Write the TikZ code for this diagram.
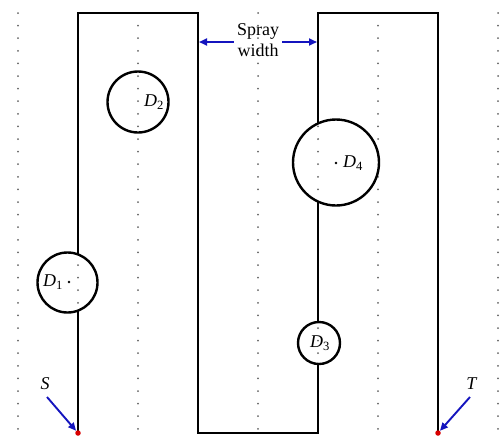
\documentclass[tikz,border=0pt]{standalone}
\usepackage{fontspec}
\setmainfont{Liberation Serif}
\usetikzlibrary{arrows.meta}
\definecolor{arrowblue}{RGB}{20,20,190}
\definecolor{dotgray}{RGB}{100,100,100}
\tikzset{
  gridline/.style={dotgray, line width=2pt, line cap=round, dash pattern=on 0pt off 12.6pt},
  track/.style={black, line width=1.8pt},
  disk/.style={circle, draw=black, fill=white, line width=2.4pt, inner sep=0pt},
  lbl/.style={font=\fontsize{18}{18}\selectfont, inner sep=0pt},
  pointer/.style={arrowblue, line width=1.9pt, -{Triangle[length=8pt,width=7pt]}},
  endpt/.style={circle, fill=red!85!black, inner sep=0pt, minimum size=5.5pt},
}
\newcommand{\drawgrid}{%
  \foreach \gx in {18,78,...,498} \draw[gridline] (\gx,13) -- (\gx,433);}
\begin{document}
\begin{tikzpicture}[x=1pt,y=-1pt]
\useasboundingbox (0,0) rectangle (500,437);

% background grid of dotted lines
\drawgrid

% corners of the spray track
\coordinate (S) at (78,433);
\coordinate (c1) at (78,13);
\coordinate (c2) at (198,13);
\coordinate (c3) at (198,433);
\coordinate (c4) at (318,433);
\coordinate (c5) at (318,13);
\coordinate (c6) at (438,13);
\coordinate (T) at (438,433);
\draw[track] (S) -- (c1) -- (c2) -- (c3) -- (c4) -- (c5) -- (c6) -- (T);

% defects
\node[disk, minimum size=60pt] (D1) at (67.5,282.5) {};
\node[disk, minimum size=61pt] (D2) at (138,102) {};
\node[disk, minimum size=42pt] (D3) at (319,343) {};
\node[disk, minimum size=86pt] (D4) at (336,162.5) {};

% grid lines seen through the defects
\begin{scope}
  \clip (D1.center) circle (28.5) (D2.center) circle (29)
        (D3.center) circle (19.5) (D4.center) circle (41.5);
  \drawgrid
\end{scope}

% centre marks and labels
\fill (69,282) circle (1.4);
\fill (336,163) circle (1.4);
\node[lbl] (L1) at (53,282) {\textit{D}\textsubscript{1}};
\node[lbl] (L2) at (154,102) {\textit{D}\textsubscript{2}};
\node[lbl] (L3) at (320,343) {\textit{D}\textsubscript{3}};
\node[lbl] (L4) at (353,163) {\textit{D}\textsubscript{4}};

% spray width annotation
\node[lbl, align=center, font=\fontsize{18}{21}\selectfont] (spray) at (258,40) {Spray\\width};
\coordinate (wl) at (199,42);
\coordinate (wr) at (317,42);
\draw[pointer] (spray.west |- wl) ++(-3,0) -- (wl);
\draw[pointer] (spray.east |- wr) ++(3,0) -- (wr);

% start and end points
\node[endpt] (Sdot) at (S) {};
\node[endpt] (Tdot) at (T) {};
\node[lbl] (Slbl) at (45,384) {\textit{S}};
\node[lbl] (Tlbl) at (472,384) {\textit{T}};
\draw[pointer] (47,397) -- (Sdot);
\draw[pointer] (470,397) -- (Tdot);
\end{tikzpicture}
\end{document}
